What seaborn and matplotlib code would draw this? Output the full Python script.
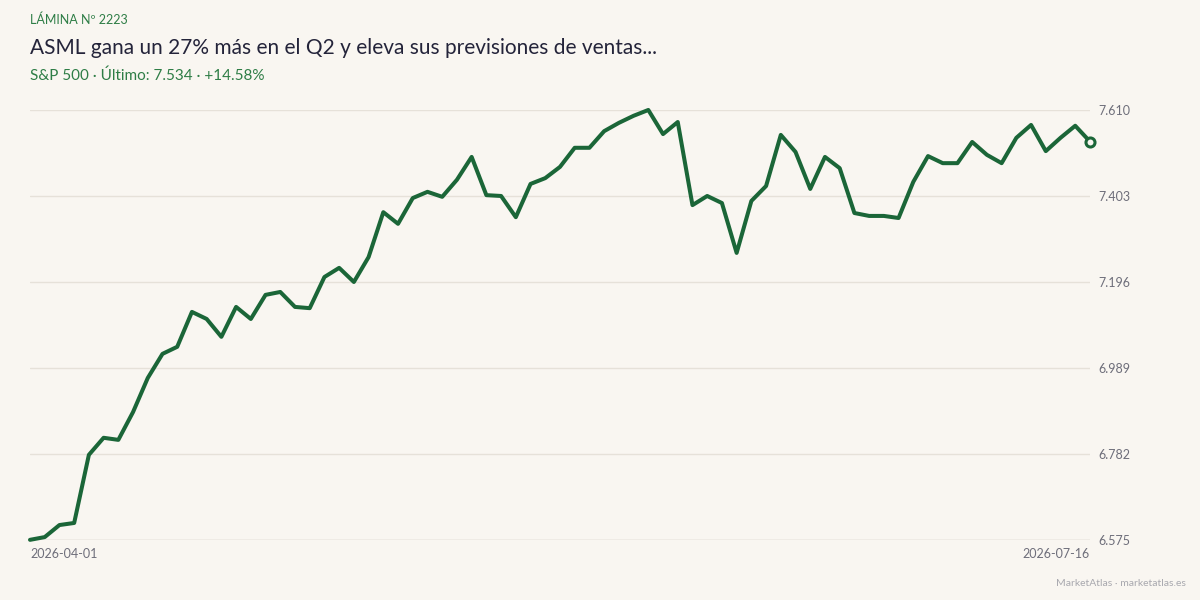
import numpy as np
import pandas as pd
import matplotlib
matplotlib.use("Agg")
import matplotlib.pyplot as plt
import seaborn as sns

# ---- data ----
values = [6.5754, 6.582, 6.611, 6.616, 6.780, 6.821, 6.816, 6.883, 6.965, 7.023,
          7.040, 7.124, 7.107, 7.064, 7.136, 7.107, 7.165, 7.172, 7.136, 7.133,
          7.208, 7.230, 7.196, 7.256, 7.364, 7.336, 7.398, 7.413, 7.401, 7.442,
          7.497, 7.405, 7.403, 7.352, 7.432, 7.446, 7.473, 7.519, 7.519, 7.559,
          7.579, 7.596, 7.610, 7.552, 7.581, 7.381, 7.403, 7.386, 7.266, 7.391,
          7.427, 7.550, 7.509, 7.420, 7.497, 7.470, 7.362, 7.355, 7.355, 7.350,
          7.437, 7.499, 7.482, 7.482, 7.533, 7.502, 7.482, 7.543, 7.574, 7.511,
          7.543, 7.572, 7.534]
holidays = ["2026-04-03", "2026-05-25", "2026-06-19", "2026-07-03"]
dates = [d for d in pd.bdate_range("2026-04-01", "2026-07-16") if d.strftime("%Y-%m-%d") not in holidays]
x_labels = ["2026-04-01", "2026-07-16"]
y_ticks = [6.575, 6.782, 6.989, 7.196, 7.403, 7.610]
y_tick_labels = ["6.575", "6.782", "6.989", "7.196", "7.403", "7.610"]

kicker = "LÁMINA Nº 2223"
title = "ASML gana un 27% más en el Q2 y eleva sus previsiones de ventas..."
subtitle = "S&P 500 · Último: 7.534 · +14.58%"
footer = "MarketAtlas · marketatlas.es"

df = pd.DataFrame({"idx": np.arange(len(values)), "value": values,
                   "date": dates[:len(values)]})

# ---- style ----
BG = "#f9f6f1"
GREEN = "#1b6638"
sns.set_theme(style="white")
plt.rcParams["font.family"] = ["Lato", "DejaVu Sans"]

fig = plt.figure(figsize=(12, 6), dpi=100, facecolor=BG)
ax = fig.add_axes([0.025, 0.1, 0.9083 - 0.025, 0.8167 - 0.1])
ax.set_facecolor(BG)

sns.lineplot(data=df, x="idx", y="value", ax=ax, color=GREEN, linewidth=2.9,
             zorder=3, clip_on=False)
ax.plot(df["idx"].iloc[-1], df["value"].iloc[-1], marker="o", markersize=6.5,
        markerfacecolor=BG, markeredgecolor=GREEN, markeredgewidth=2.2,
        linestyle="none", zorder=4, clip_on=False)

ax.set_xlim(0, len(values) - 1)
ax.set_ylim(y_ticks[0], y_ticks[-1])
ax.set_yticks(y_ticks)
ax.set_yticklabels(y_tick_labels)
ax.yaxis.tick_right()
ax.tick_params(axis="y", length=0, pad=6, labelsize=9, labelcolor="#6e6e7a")
ax.grid(axis="y", color="#e6e1d9", linewidth=1)
ax.set_axisbelow(True)

ax.set_xticks([0, len(values) - 1])
ax.set_xticklabels(x_labels)
ax.tick_params(axis="x", length=0, pad=6, labelsize=9, labelcolor="#6e6e7a")
xt = ax.get_xticklabels()
xt[0].set_ha("left")
xt[1].set_ha("right")
ax.set_xlabel("")
ax.set_ylabel("")
for s in ax.spines.values():
    s.set_visible(False)
ax.axhline(y_ticks[0], color="#d9d4cc", linewidth=1, zorder=1)

fig.text(30 / 1200, 1 - 20 / 600, kicker, color="#2e7d46", fontsize=9, va="center", ha="left")
fig.text(30 / 1200, 1 - 48 / 600, title, color="#24243a", fontsize=15, va="center", ha="left")
fig.text(30 / 1200, 1 - 76 / 600, subtitle, color="#2e7d46", fontsize=11, va="center", ha="left")
fig.text(1186 / 1200, 1 - 583 / 600, footer, color="#a8a8ae", fontsize=7.5, va="center", ha="right")

fig.savefig("out.png", dpi=100, facecolor=BG)
